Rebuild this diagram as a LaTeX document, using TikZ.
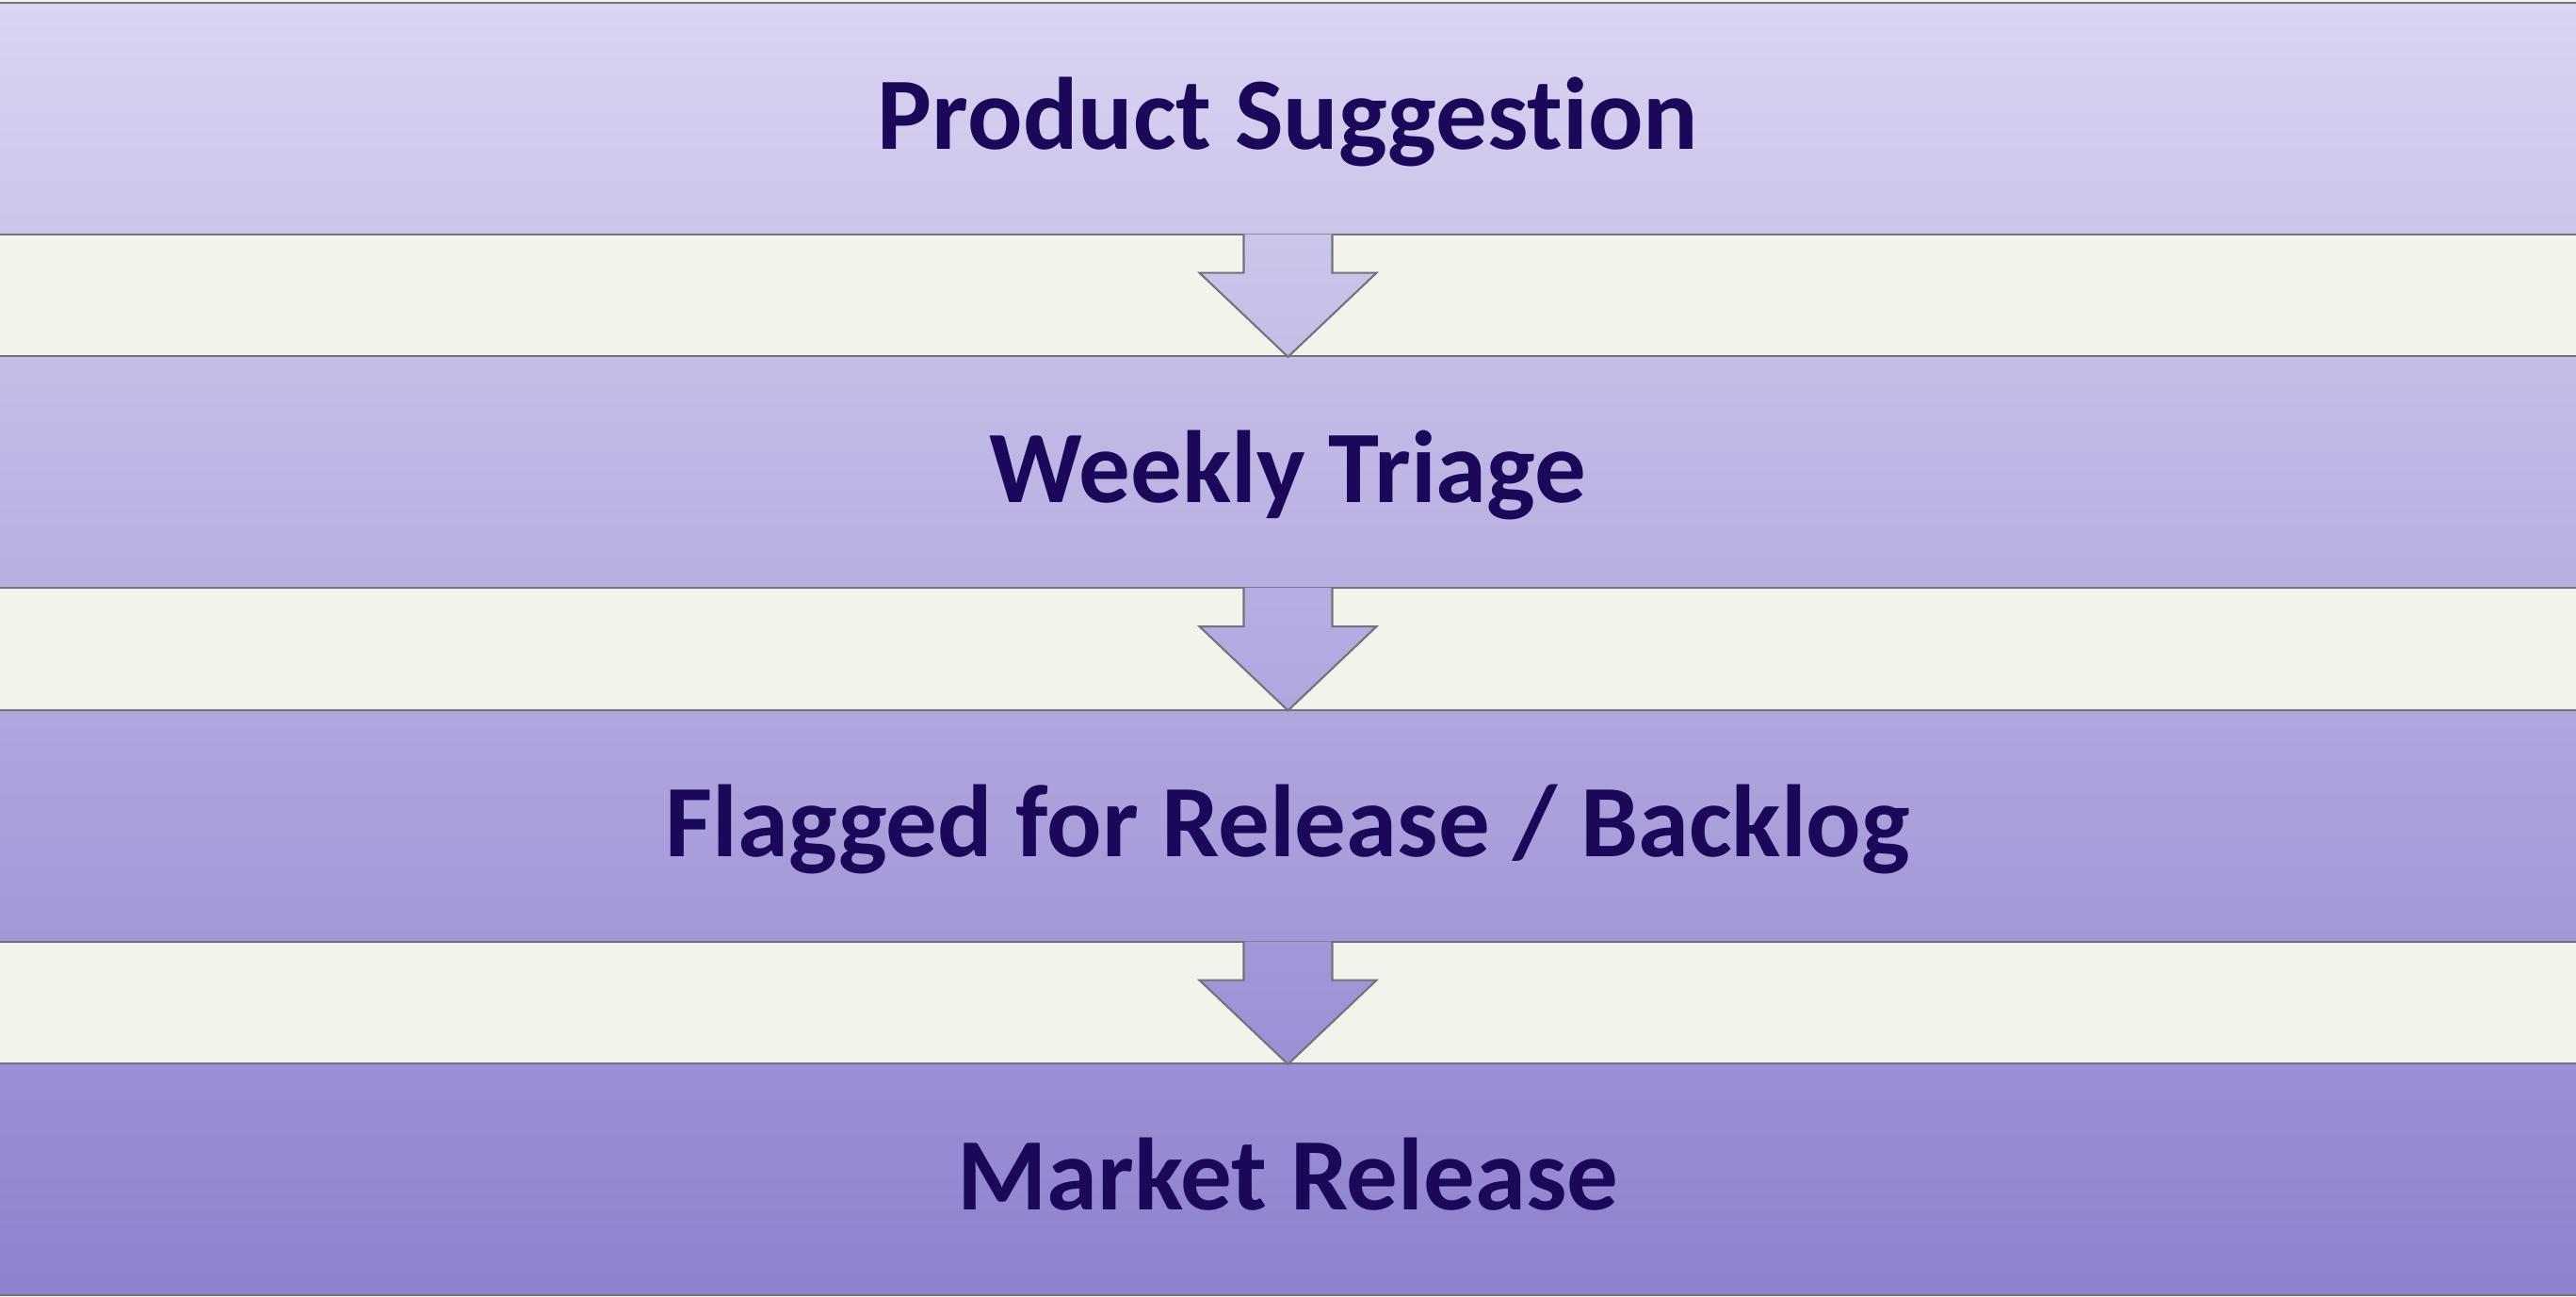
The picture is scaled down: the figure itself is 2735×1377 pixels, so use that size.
\documentclass[tikz,border=0pt]{standalone}
\usepackage{fontspec}
\setmainfont{Carlito}[Ligatures=CommonOff]
\usetikzlibrary{calc}
\definecolor{gapc}{RGB}{243,243,235}
\definecolor{topc}{RGB}{217,212,241}
\definecolor{botc}{RGB}{141,129,207}
\definecolor{txtc}{RGB}{27,8,90}
\definecolor{edgec}{RGB}{115,115,125}
\pgfdeclarelayer{back}
\pgfsetlayers{back,main}
\newcommand\flowarrow[2]{%
  \coordinate (#1-tl) at ($(#1.south)+(-47,-1)$);
  \coordinate (#1-bl) at ($(#1.south)+(-47,40)$);
  \coordinate (#1-hl) at ($(#1.south)+(-94,40)$);
  \coordinate (#1-tip) at ($(#2.north)+(0,1.5)$);
  \coordinate (#1-hr) at ($(#1.south)+(94,40)$);
  \coordinate (#1-br) at ($(#1.south)+(47,40)$);
  \coordinate (#1-tr) at ($(#1.south)+(47,-1)$);
  \begin{scope}
    \clip (#1-tl) -- (#1-bl) -- (#1-hl) -- (#1-tip) -- (#1-hr) -- (#1-br) -- (#1-tr) -- cycle;
    \shade[top color=topc,bottom color=botc] (-10,3) rectangle (2745,1375);
  \end{scope}
  \draw[edgeline] (#1-tl) -- (#1-bl) -- (#1-hl) -- (#1-tip) -- (#1-hr) -- (#1-br) -- (#1-tr);
}
\begin{document}
\begin{tikzpicture}[x=0.01cm,y=-0.01cm,
  edgeline/.style={draw=edgec,line width=0.6pt,line join=miter},
  band/.style={rectangle,draw=edgec,line width=0.6pt,inner sep=0pt,
    minimum width=27.55cm,minimum height=2.455cm,
    text=txtc,font=\bfseries\fontsize{31}{36}\selectfont,
    text height=0.70cm,text depth=0.05cm}]
\useasboundingbox (0,0) rectangle (2735,1377);
\node[band] (b1) at (1367.5,125.75) {Product Suggestion};
\node[band] (b2) at (1367.5,501.25) {Weekly Triage};
\node[band] (b3) at (1367.5,876.75) {Flagged for Release / Backlog};
\node[band] (b4) at (1367.5,1252.25) {Market Release};
\begin{pgfonlayer}{back}
  \fill[gapc] (0,0) rectangle (2735,1377);
  \begin{scope}
    \clip (b1.north west) rectangle (b1.south east)
          (b2.north west) rectangle (b2.south east)
          (b3.north west) rectangle (b3.south east)
          (b4.north west) rectangle (b4.south east);
    \shade[top color=topc,bottom color=botc] (-10,3) rectangle (2745,1375);
  \end{scope}
\end{pgfonlayer}
\flowarrow{b1}{b2}
\flowarrow{b2}{b3}
\flowarrow{b3}{b4}
\end{tikzpicture}
\end{document}
